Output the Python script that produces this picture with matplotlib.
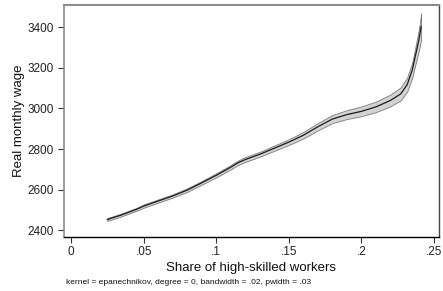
import matplotlib
matplotlib.use("Agg")
import matplotlib.pyplot as plt
import numpy as np

plt.rcParams['font.family'] = ['Liberation Sans', 'DejaVu Sans']

share = [0.025, 0.035, 0.045, 0.05, 0.06, 0.07, 0.08, 0.09, 0.10, 0.11, 0.115,
         0.12, 0.13, 0.14, 0.15, 0.16, 0.17, 0.18, 0.19, 0.20, 0.21, 0.22,
         0.227, 0.2315, 0.235, 0.2372, 0.2396, 0.2411]
wage = [2452, 2475, 2502, 2518, 2543, 2568, 2597, 2633, 2670, 2710, 2732,
        2748, 2774, 2804, 2834, 2868, 2910, 2948, 2970, 2986, 3008, 3040,
        3072, 3118, 3190, 3262, 3340, 3405]
halfwidth = [7, 7, 7, 8, 8, 8, 9, 9, 10, 11, 11,
             12, 12, 13, 14, 16, 18, 20, 22, 24, 26, 29,
             32, 35, 38, 43, 52, 65]

xticks = [0, 0.05, 0.10, 0.15, 0.20, 0.25]
xticklabels = ['0', '.05', '.1', '.15', '.2', '.25']
yticks = [2400, 2600, 2800, 3000, 3200, 3400]

x = np.array(share)
y = np.array(wage)
hw = np.array(halfwidth)

fig = plt.figure(figsize=(4.43, 2.91), dpi=100)
ax = fig.add_axes([63.5/443, 1-236.5/291, (439-63.5)/443, (236.5-5)/291])

ax.fill_between(x, y - hw, y + hw, facecolor='#d3d3d3', edgecolor='#7a7a7a', linewidth=0.6)
ax.plot(x, y, color='#1a1a1a', linewidth=0.9)

ax.set_xlim(-0.0052, 0.2534)
ax.set_ylim(2368, 3511)
ax.set_xticks(xticks)
ax.set_xticklabels(xticklabels)
ax.set_yticks(yticks)
ax.tick_params(axis='both', labelsize=8.5, length=4, width=0.8, color='#333333', pad=3,
               labelcolor='#222222')

ax.spines['left'].set_color('#8c8c8c')
ax.spines['top'].set_color('#8c8c8c')
ax.spines['right'].set_color('#444444')
ax.spines['bottom'].set_color('#000000')
for s in ax.spines.values():
    s.set_linewidth(1.0)
ax.spines['top'].set_linewidth(1.5)
ax.spines['left'].set_linewidth(1.2)

ax.set_xlabel('Share of high-skilled workers', fontsize=9.5, labelpad=3, color='#111111')
ax.set_ylabel('Real monthly wage', fontsize=9.5, labelpad=2, color='#111111')

fig.text(66/443, 1-282/291, 'kernel = epanechnikov, degree = 0, bandwidth = .02, pwidth = .03',
         fontsize=6, va='center', ha='left', color='#111111')

fig.savefig('out.png', dpi=100)
